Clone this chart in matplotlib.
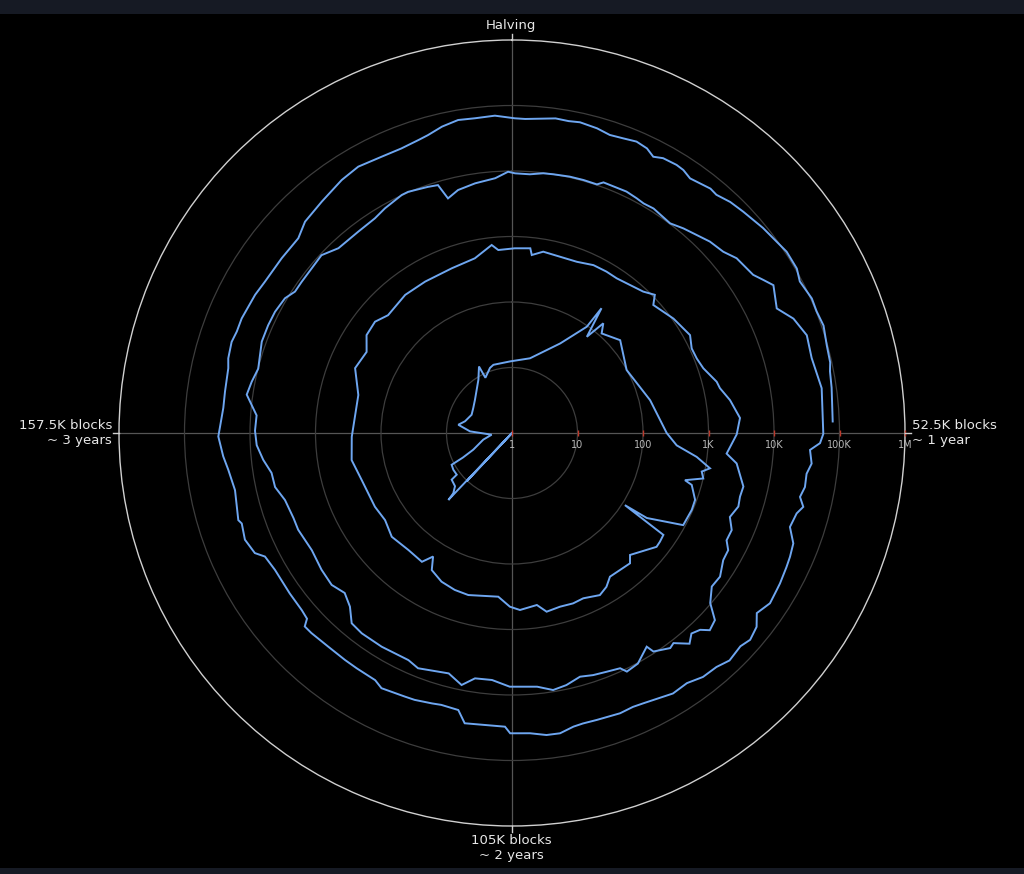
import numpy as np
import matplotlib
matplotlib.use("Agg")
import matplotlib.pyplot as plt

# ---------------- data ----------------
# blocks since the start of each halving epoch (thousands) and BTC price (USD)
EPOCH_KBLOCKS = 210.0

e1_kblocks = [128.6, 130.2, 130.3, 130.4, 130.8, 132.4, 135.5, 135.9, 138.8, 141.3,
              142.0, 143.9, 149.9, 154.7, 158.8, 162.6, 165.7, 171.7, 176.7, 182.0,
              187.1, 191.2, 194.6, 195.0, 199.1, 201.1, 209.1]
e1_price = [1.0, 10.2, 1.0, 25.7, 19.3, 15.5, 14.6, 11.4, 11.4, 11.0,
            6.9, 4.41, 2.82, 2.05, 4.38, 6.75, 5.48, 4.75, 5.06, 5.76,
            7.13, 9.16, 13.6, 8.63, 11.2, 12.0, 12.4]

e2_kblocks = [7.9, 16.5, 20.5, 20.8, 22.1, 23.2, 24.5, 28.8, 35.7, 44.7,
              52.5, 55.0, 56.8, 58.4, 59.2, 60.3, 61.4, 61.9, 64.2, 66.0,
              69.0, 71.3, 71.5, 72.3, 73.7, 74.8, 79.3, 80.4, 85.0, 86.6,
              88.4, 91.4, 93.5, 96.0, 98.6, 100.2, 103.5, 105.4, 107.8, 113.8,
              116.7, 119.8, 122.7, 124.0, 125.4, 129.2, 133.7, 137.4, 141.0, 147.4,
              151.9, 156.7, 165.6, 170.6, 174.5, 177.3, 180.3, 182.9, 188.0, 192.6,
              198.3, 203.0, 206.4, 207.5]
e2_price = [14.9, 35.7, 96.5, 221, 72.6, 151, 111, 150, 99.3, 147,
            230, 332, 697, 1175, 903, 1004, 546, 718, 946, 966,
            929, 271, 111, 611, 635, 644, 390, 483, 452, 570,
            653, 560, 580, 564, 601, 450, 507, 449, 322, 365,
            355, 325, 266, 173, 251, 243, 266, 224, 238, 254,
            304, 280, 261, 391, 348, 475, 495, 408, 463, 462,
            476, 533, 771, 633]

e3_kblocks = [0.5, 3.3, 3.7, 5.7, 8.9, 12.1, 15.1, 17.7, 19.9, 22.5,
              25.0, 26.8, 27.9, 29.9, 31.9, 34.2, 35.7, 37.8, 39.7, 41.6,
              44.3, 45.4, 47.5, 50.3, 52.7, 55.7, 57.0, 60.1, 61.6,
              63.0, 64.8, 66.4, 68.0, 69.1, 70.6, 72.7, 74.4, 76.2, 77.4,
              78.7, 79.5, 80.6, 81.6, 83.1, 83.8, 85.8, 86.2, 88.3, 90.0,
              90.6, 92.4, 94.2, 95.9, 97.9, 99.7, 101.7, 105.3, 107.7, 110.0,
              111.6, 113.6, 117.7, 119.3, 123.3, 126.5, 128.4, 130.1, 132.0, 134.1,
              136.7, 139.8, 143.3, 145.1, 147.9, 150.0, 152.0, 153.9, 155.9, 157.8,
              159.8, 162.3, 164.0, 165.8, 169.2, 171.4, 173.3, 175.4, 176.8, 178.3,
              180.5, 182.6, 184.8, 188.2, 191.0, 192.8, 195.5, 196.4, 199.0, 200.3,
              201.1, 202.7, 205.1, 207.8, 209.5]
e3_price = [661, 682, 542, 644, 615, 624, 706, 716, 711, 776,
            881, 1081, 815, 912, 1050, 1163, 1265, 1076, 1100, 1213,
            1665, 1767, 2324, 3080, 2697, 1958, 2890, 4227, 4111,
            4302, 3672, 4647, 4600, 5680, 5800, 7240, 7030, 9720, 16370,
            18370, 14360, 12830, 16070, 11110, 11920, 9420, 7180, 10250, 11040,
            8970, 8330, 7910, 7290, 8650, 9420, 7800, 7470, 6070, 6140,
            8390, 6240, 7370, 6470, 6630, 6650, 6290, 4227, 3420, 3980,
            3800, 3480, 3830, 3800, 4110, 5130, 5260, 6600, 7980, 8390,
            8100, 12360, 11230, 9930, 11670, 11750, 11590, 10730, 9000, 9010,
            9100, 9520, 7420, 7370, 7740, 8720, 10110, 10210, 9350, 8910,
            5160, 6310, 7130, 7910, 9750]

e4_kblocks = [0.4, 2.3, 4.0, 5.3, 7.4, 9.2, 11.0, 11.7, 13.5, 14.8,
              16.3, 17.4, 18.8, 21.6, 23.3, 25.1, 26.8, 28.8, 30.4, 33.1,
              34.2, 35.3, 37.8,
              39.6, 41.8, 44.3, 47.7, 52.6, 53.6, 54.4, 55.9, 57.1, 58.6,
              59.8, 60.8, 61.7, 63.4, 65.0, 66.5, 67.7, 69.6, 70.4, 72.0,
              73.7, 74.9, 76.4, 77.6, 79.5, 81.0, 82.8, 84.6, 86.5, 88.7,
              89.9, 91.1, 92.7, 95.4, 97.0, 98.1, 99.7, 101.2, 103.0, 105.2,
              105.8, 108.1, 110.4, 111.4, 113.5, 114.6, 116.7, 117.9, 120.8, 121.9,
              124.5, 126.2, 128.7, 131.3, 132.4, 132.9, 134.1, 136.6, 140.0, 142.0,
              142.9, 144.8, 146.7, 147.2, 150.7, 153.2, 154.8, 157.1, 160.4, 162.3,
              165.0, 166.1, 168.0, 169.3, 170.9, 174.0, 175.9, 179.2, 182.2, 184.1,
              187.0, 190.2, 192.5, 195.3, 197.6, 199.7, 200.8, 202.5, 204.3, 206.1,
              208.2]
e4_price = [9220, 9100, 9860, 10000, 10280, 10320, 10250, 11830, 11800, 12000,
            11430, 10960, 11270, 10210, 11880, 13620, 15960, 17780, 22130, 25300,
            31000, 38450, 29320,
            43470, 55210, 52000, 59840, 56600, 50700, 36060, 39650, 34700, 35300,
            31900, 38700, 32800, 30150, 41100, 44260, 46130, 49200, 50000, 52360,
            43650, 58200, 65350, 59020, 63800, 55450, 53700, 45700, 47300, 40930,
            38700, 37240, 38550, 36980, 36730, 38020, 43950, 43750, 39100, 38450,
            30550, 29930, 30900, 20330, 19450, 20190, 21740, 22080, 23770, 20560,
            20140, 20050, 20050, 21150, 21300, 16710, 15740, 15310, 15100, 16480,
            21520, 24600, 22440, 24270, 20790, 23330, 26490, 30480, 26550, 26740,
            27720, 30150, 31690, 30060, 30360, 28400, 26490, 25940, 25940, 32810,
            37400, 45300, 49550, 46130, 45810, 49660, 53100, 62850, 70600, 68900,
            71100]

e5_kblocks = [0.3, 1.4, 4.6, 6.0, 7.2, 9.1, 10.6, 12.1, 13.5, 14.8,
              15.8, 16.8, 18.4, 19.3, 20.4, 22.8, 23.7, 25.3, 27.0, 29.6,
              31.6, 33.0, 35.0, 36.3, 38.4, 39.8, 41.4, 43.4, 45.2, 46.1,
              47.8, 51.3]
e5_price = [63800, 62900, 70600, 69100, 71800, 67500, 61520, 64400, 68900, 64400,
            54600, 61400, 63500, 61950, 55400, 64000, 61950, 71100, 77100, 88700,
            96850, 105700, 105000, 92500, 104000, 101800, 107400, 97500, 94600, 88100,
            84800, 79300]

r_ticks = [1, 10, 100, 1e3, 1e4, 1e5, 1e6]
r_tick_labels = ["1", "10", "100", "1K", "10K", "100K", "1M"]
angle_labels = ["Halving", "52.5K blocks\n~ 1 year", "105K blocks\n~ 2 years",
                "157.5K blocks\n~ 3 years"]

# ---------------- build continuous spiral ----------------
epochs = [(e1_kblocks, e1_price), (e2_kblocks, e2_price), (e3_kblocks, e3_price),
          (e4_kblocks, e4_price), (e5_kblocks, e5_price)]
all_blocks, all_price = [], []
for i, (kb, pr) in enumerate(epochs):
    all_blocks += [i * EPOCH_KBLOCKS + b for b in kb]
    all_price += list(pr)
theta = 2 * np.pi * np.array(all_blocks) / EPOCH_KBLOCKS
price = np.clip(np.array(all_price, dtype=float), 1, None)

# ---------------- figure ----------------
W, H = 1024, 874
fig = plt.figure(figsize=(W / 100, H / 100), dpi=100, facecolor="black")
fig.patches.append(plt.Rectangle((0, 1 - 14 / H), 1, 14 / H, transform=fig.transFigure,
                                 facecolor="#161a24", edgecolor="none", zorder=0))
fig.patches.append(plt.Rectangle((0, 0), 1, 6 / H, transform=fig.transFigure,
                                 facecolor="#161a24", edgecolor="none", zorder=0))

cx, cy, R = 512, 433, 393
ax = fig.add_axes([(cx - R) / W, (H - cy - R) / H, 2 * R / W, 2 * R / H], projection="polar")
ax.set_facecolor("black")
ax.set_theta_zero_location("N")
ax.set_theta_direction(-1)
ax.set_rscale("log")
ax.set_ylim(1, 1e6)

ax.set_rgrids([10, 100, 1e3, 1e4, 1e5], labels=[""] * 5)
ax.yaxis.grid(True, color="#3d3d3d", linewidth=0.9)
ax.set_thetagrids([0, 90, 180, 270], labels=[""] * 4)
ax.xaxis.grid(True, color="#555555", linewidth=0.9)
ax.spines["polar"].set_color("#d0d0d0")
ax.spines["polar"].set_linewidth(1.0)
ax.tick_params(axis="x", length=0)
ax.tick_params(axis="y", length=0)

ax.plot(theta, price, color="#6ea6f0", linewidth=1.4, solid_joinstyle="miter", zorder=3)

# red radial tick marks and labels along the 1-year direction
ax.plot([np.pi / 2] * len(r_ticks), r_ticks, linestyle="none", marker="|",
        markersize=4, color="#c0392b", markeredgewidth=1.0, zorder=4, clip_on=False)
for rv, lab in zip(r_ticks, r_tick_labels):
    ax.annotate(lab, xy=(np.pi / 2, rv), xytext=(0, -12), textcoords="offset pixels",
                ha="center", va="center", fontsize=7, color="#b8b8b8",
                annotation_clip=False, zorder=5)

# short outward angular ticks
tick_px = 6
for ang in [0, 90, 180, 270]:
    a = np.deg2rad(ang)
    x0, y0 = cx + R * np.sin(a), cy - R * np.cos(a)
    x1, y1 = cx + (R + tick_px) * np.sin(a), cy - (R + tick_px) * np.cos(a)
    fig.add_artist(plt.Line2D([x0 / W, x1 / W], [1 - y0 / H, 1 - y1 / H],
                              transform=fig.transFigure, color="#d0d0d0", linewidth=1.0))

txt_kw = dict(fontsize=9.5, color="#e8e8e8", transform=fig.transFigure, linespacing=1.25)
fig.text(511 / W, 1 - 26 / H, angle_labels[0], ha="center", va="center", **txt_kw)
fig.text(912 / W, 1 - 433 / H, angle_labels[1], ha="left", va="center", multialignment="left", **txt_kw)
fig.text(511 / W, 1 - 848 / H, angle_labels[2], ha="center", va="center", multialignment="center", **txt_kw)
fig.text(112 / W, 1 - 433 / H, angle_labels[3], ha="right", va="center", multialignment="right", **txt_kw)

fig.savefig("out.png", dpi=100, facecolor=fig.get_facecolor())
